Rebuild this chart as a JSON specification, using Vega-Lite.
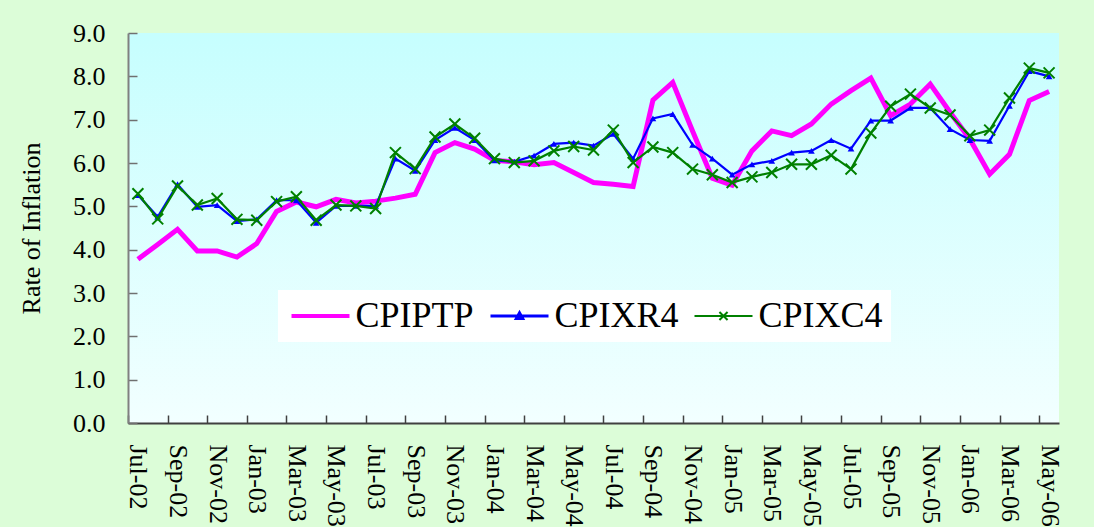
{
  "$schema": "https://vega.github.io/schema/vega-lite/v6.json",
  "width": 931,
  "height": 390,
  "autosize": {"type": "none"},
  "padding": {"left": 128, "top": 33, "right": 35, "bottom": 104},
  "background": "#dcfdd8",
  "config": {
    "font": "Liberation Serif",
    "view": {"stroke": null, "fill": {"gradient": "linear", "x1": 0, "y1": 0, "x2": 0, "y2": 1, "stops": [{"offset": 0, "color": "#c6fefe"}, {"offset": 1, "color": "#f2ffff"}]}}
  },
  "datasets": {
    "wide": [
      {"m": "Jul-02", "CPIPTP": 3.78, "CPIXR4": 5.26, "CPIXC4": 5.29},
      {"m": "Aug-02", "CPIPTP": 4.12, "CPIXR4": 4.76, "CPIXC4": 4.71},
      {"m": "Sep-02", "CPIPTP": 4.47, "CPIXR4": 5.51, "CPIXC4": 5.47},
      {"m": "Oct-02", "CPIPTP": 3.97, "CPIXR4": 4.99, "CPIXC4": 5.03},
      {"m": "Nov-02", "CPIPTP": 3.97, "CPIXR4": 5.03, "CPIXC4": 5.18},
      {"m": "Dec-02", "CPIPTP": 3.83, "CPIXR4": 4.66, "CPIXC4": 4.70},
      {"m": "Jan-03", "CPIPTP": 4.14, "CPIXR4": 4.70, "CPIXC4": 4.68},
      {"m": "Feb-03", "CPIPTP": 4.88, "CPIXR4": 5.14, "CPIXC4": 5.11},
      {"m": "Mar-03", "CPIPTP": 5.10, "CPIXR4": 5.14, "CPIXC4": 5.22},
      {"m": "Apr-03", "CPIPTP": 4.99, "CPIXR4": 4.62, "CPIXC4": 4.68},
      {"m": "May-03", "CPIPTP": 5.16, "CPIXR4": 5.01, "CPIXC4": 5.03},
      {"m": "Jun-03", "CPIPTP": 5.08, "CPIXR4": 5.01, "CPIXC4": 5.01},
      {"m": "Jul-03", "CPIPTP": 5.12, "CPIXR4": 5.01, "CPIXC4": 4.95},
      {"m": "Aug-03", "CPIPTP": 5.19, "CPIXR4": 6.10, "CPIXC4": 6.24},
      {"m": "Sep-03", "CPIPTP": 5.28, "CPIXR4": 5.82, "CPIXC4": 5.87},
      {"m": "Oct-03", "CPIPTP": 6.24, "CPIXR4": 6.53, "CPIXC4": 6.60},
      {"m": "Nov-03", "CPIPTP": 6.47, "CPIXR4": 6.81, "CPIXC4": 6.90},
      {"m": "Dec-03", "CPIPTP": 6.32, "CPIXR4": 6.53, "CPIXC4": 6.57},
      {"m": "Jan-04", "CPIPTP": 6.06, "CPIXR4": 6.06, "CPIXC4": 6.10},
      {"m": "Feb-04", "CPIPTP": 6.03, "CPIXR4": 6.03, "CPIXC4": 6.01},
      {"m": "Mar-04", "CPIPTP": 5.96, "CPIXR4": 6.17, "CPIXC4": 6.05},
      {"m": "Apr-04", "CPIPTP": 6.01, "CPIXR4": 6.44, "CPIXC4": 6.28},
      {"m": "May-04", "CPIPTP": 5.78, "CPIXR4": 6.47, "CPIXC4": 6.38},
      {"m": "Jun-04", "CPIPTP": 5.55, "CPIXR4": 6.40, "CPIXC4": 6.30},
      {"m": "Jul-04", "CPIPTP": 5.51, "CPIXR4": 6.67, "CPIXC4": 6.76},
      {"m": "Aug-04", "CPIPTP": 5.46, "CPIXR4": 6.10, "CPIXC4": 6.01},
      {"m": "Sep-04", "CPIPTP": 7.45, "CPIXR4": 7.03, "CPIXC4": 6.37},
      {"m": "Oct-04", "CPIPTP": 7.86, "CPIXR4": 7.13, "CPIXC4": 6.24},
      {"m": "Nov-04", "CPIPTP": 6.74, "CPIXR4": 6.42, "CPIXC4": 5.86},
      {"m": "Dec-04", "CPIPTP": 5.65, "CPIXR4": 6.10, "CPIXC4": 5.73},
      {"m": "Jan-05", "CPIPTP": 5.49, "CPIXR4": 5.73, "CPIXC4": 5.55},
      {"m": "Feb-05", "CPIPTP": 6.28, "CPIXR4": 5.97, "CPIXC4": 5.68},
      {"m": "Mar-05", "CPIPTP": 6.74, "CPIXR4": 6.05, "CPIXC4": 5.78},
      {"m": "Apr-05", "CPIPTP": 6.63, "CPIXR4": 6.24, "CPIXC4": 5.97},
      {"m": "May-05", "CPIPTP": 6.90, "CPIXR4": 6.28, "CPIXC4": 5.97},
      {"m": "Jun-05", "CPIPTP": 7.36, "CPIXR4": 6.53, "CPIXC4": 6.18},
      {"m": "Jul-05", "CPIPTP": 7.67, "CPIXR4": 6.33, "CPIXC4": 5.86},
      {"m": "Aug-05", "CPIPTP": 7.96, "CPIXR4": 6.98, "CPIXC4": 6.69},
      {"m": "Sep-05", "CPIPTP": 7.09, "CPIXR4": 6.98, "CPIXC4": 7.31},
      {"m": "Oct-05", "CPIPTP": 7.36, "CPIXR4": 7.27, "CPIXC4": 7.59},
      {"m": "Nov-05", "CPIPTP": 7.82, "CPIXR4": 7.27, "CPIXC4": 7.27},
      {"m": "Dec-05", "CPIPTP": 7.17, "CPIXR4": 6.78, "CPIXC4": 7.11},
      {"m": "Jan-06", "CPIPTP": 6.55, "CPIXR4": 6.53, "CPIXC4": 6.63},
      {"m": "Feb-06", "CPIPTP": 5.74, "CPIXR4": 6.51, "CPIXC4": 6.76},
      {"m": "Mar-06", "CPIPTP": 6.20, "CPIXR4": 7.32, "CPIXC4": 7.50},
      {"m": "Apr-06", "CPIPTP": 7.44, "CPIXR4": 8.12, "CPIXC4": 8.19},
      {"m": "May-06", "CPIPTP": 7.65, "CPIXR4": 8.00, "CPIXC4": 8.08}
    ]
  },
  "data": {"name": "wide"},
  "transform": [{"fold": ["CPIPTP", "CPIXR4", "CPIXC4"], "as": ["s", "v"]}],
  "encoding": {
    "x": {
      "field": "m", "type": "ordinal", "sort": null,
      "scale": {"type": "point", "padding": 0.5},
      "axis": {
        "title": null,
        "values": ["Jul-02", "Sep-02", "Nov-02", "Jan-03", "Mar-03", "May-03", "Jul-03", "Sep-03", "Nov-03", "Jan-04", "Mar-04", "May-04", "Jul-04", "Sep-04", "Nov-04", "Jan-05", "Mar-05", "May-05", "Jul-05", "Sep-05", "Nov-05", "Jan-06", "Mar-06", "May-06"],
        "labelAngle": 90, "labelAlign": "left", "labelBaseline": "middle",
        "labelFont": "Liberation Serif", "labelFontSize": 26, "labelColor": "#000000",
        "labelPadding": 29, "labelOverlap": false,
        "tickSize": -8, "tickColor": "#404040", "tickWidth": 1.5, "tickOffset": -9.9, "labelOffset": 9.9,
        "domainColor": "#404040", "domainWidth": 2, "grid": false
      }
    },
    "y": {
      "field": "v", "type": "quantitative",
      "scale": {"domain": [0, 9], "nice": false, "zero": true},
      "axis": {
        "title": "Rate of Inflation", "titleFont": "Liberation Serif", "titleFontSize": 26, "titleFontWeight": "normal", "titleColor": "#000000", "titlePadding": 28,
        "values": [0, 1, 2, 3, 4, 5, 6, 7, 8, 9], "format": ".1f",
        "labelFont": "Liberation Serif", "labelFontSize": 26, "labelColor": "#000000", "labelPadding": 32,
        "tickSize": -9, "tickColor": "#707070", "tickWidth": 1.5,
        "domainColor": "#808080", "domainWidth": 2, "grid": false
      }
    }
  },
  "layer": [
    {"transform": [{"filter": "datum.s === 'CPIPTP'"}], "mark": {"type": "line", "color": "#ff00ff", "strokeWidth": 5}},
    {"transform": [{"filter": "datum.s === 'CPIXR4'"}], "mark": {"type": "line", "color": "#0000ff", "strokeWidth": 2.2}},
    {"transform": [{"filter": "datum.s === 'CPIXR4'"}], "mark": {"type": "point", "shape": "triangle-up", "filled": true, "color": "#0000ff", "size": 45, "opacity": 1}},
    {"transform": [{"filter": "datum.s === 'CPIXC4'"}], "mark": {"type": "line", "color": "#008000", "strokeWidth": 2.2}},
    {"transform": [{"filter": "datum.s === 'CPIXC4'"}], "mark": {"type": "point", "shape": "M-1,-1L1,1M-1,1L1,-1", "filled": false, "color": "#008000", "strokeWidth": 2, "size": 120, "opacity": 1}},
    {
      "transform": [{"filter": "datum.v < 0"}],
      "mark": {"type": "point", "filled": true, "opacity": 1},
      "encoding": {
        "shape": {"field": "s", "type": "nominal", "scale": {"domain": ["CPIPTP", "CPIXR4", "CPIXC4"], "range": ["M-2,0H2", "M-2,0H2M-0.22,0.18L0,-0.22L0.22,0.18Z", "M-2,0H2M-0.28,-0.28L0.28,0.28M-0.28,0.28L0.28,-0.28"]},
          "legend": {"title": null, "direction": "horizontal", "orient": "none", "legendX": 150, "legendY": 257, "fillColor": "#ffffff", "padding": 8, "labelFont": "Liberation Serif", "labelFontSize": 36, "labelColor": "#000000", "labelOffset": 17, "columnPadding": 10, "symbolSize": 841, "symbolOffset": 16.5}},
        "fill": {"field": "s", "type": "nominal", "scale": {"domain": ["CPIPTP", "CPIXR4", "CPIXC4"], "range": ["#ff00ff", "#0000ff", "#008000"]}},
        "stroke": {"field": "s", "type": "nominal", "scale": {"domain": ["CPIPTP", "CPIXR4", "CPIXC4"], "range": ["#ff00ff", "#0000ff", "#008000"]}},
        "strokeWidth": {"field": "s", "type": "nominal", "scale": {"domain": ["CPIPTP", "CPIXR4", "CPIXC4"], "range": [4, 2, 2]}}
      }
    }
  ]
}
